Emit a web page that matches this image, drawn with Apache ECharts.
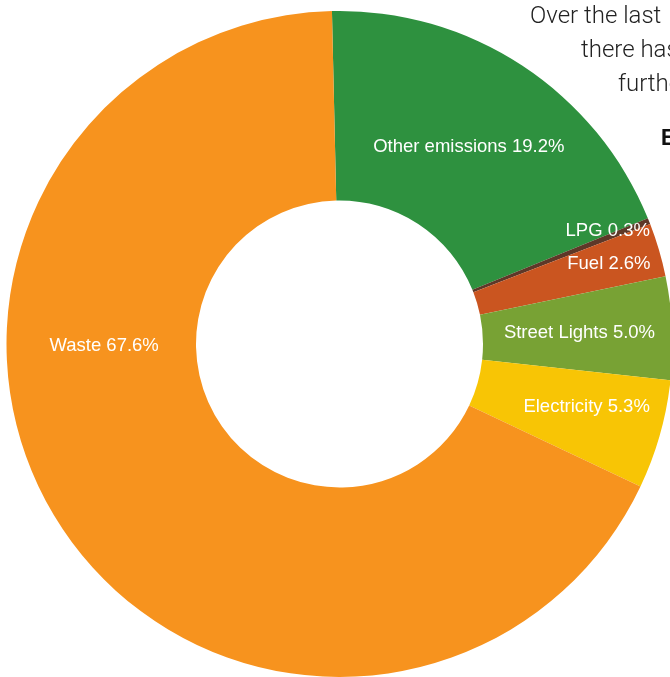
<!DOCTYPE html>
<html>
<head>
<meta charset="utf-8">
<script src="https://cdn.jsdelivr.net/npm/echarts@6/dist/echarts.min.js"></script>
<style>
  html, body { margin: 0; padding: 0; background: #fff; }
  #chart { width: 670px; height: 677px; }
</style>
</head>
<body>
<div id="chart"></div>
<script>
// emission sources, clockwise from the top
const categories = ['Other emissions', 'LPG', 'Fuel', 'Street Lights', 'Electricity', 'Waste'];
const shares = [19.2, 0.3, 2.6, 5.0, 5.3, 67.6];
const colors = ['#2e913f', '#5e3828', '#ca5520', '#78a234', '#f8c505', '#f7931e'];
// nudges so labels sit where the original put them
const labelOffsets = [[-3, 5], [44, -24], [38, -12], [-1, 0], [15, -3], [-33, -129]];

// clipped paragraph text at the top right of the page
const introLines = [
  { text: 'Over the last', x: 530, y: 5 },
  { text: 'there has', x: 581, y: 39 },
  { text: 'furthe', x: 618, y: 73 },
];

const chart = echarts.init(document.getElementById('chart'));

const graphic = introLines.map((l) => ({
  type: 'text',
  x: l.x,
  y: l.y,
  style: {
    text: l.text,
    fill: '#222',
    font: '300 24px Roboto',
    verticalAlign: 'top',
  },
}));
graphic.push({
  type: 'text',
  x: 661,
  y: 128,
  style: {
    text: 'E',
    fill: '#111',
    font: 'bold 22px Roboto',
    verticalAlign: 'top',
  },
});

chart.setOption({
  animation: false,
  graphic: graphic,
  series: [
    {
      type: 'pie',
      center: [339.5, 344],
      radius: [143.5, 333],
      startAngle: 91.3,
      clockwise: true,
      avoidLabelOverlap: false,
      labelLine: { show: false },
      emphasis: { disabled: true },
      label: {
        show: true,
        position: 'inside',
        color: '#fff',
        fontSize: 18.5,
        fontFamily: 'Liberation Sans',
        formatter: (p) => p.name + ' ' + p.value.toFixed(1) + '%',
      },
      data: categories.map((name, i) => ({
        name: name,
        value: shares[i],
        itemStyle: { color: colors[i] },
        label: { offset: labelOffsets[i] },
      })),
    },
  ],
});
</script>
</body>
</html>
